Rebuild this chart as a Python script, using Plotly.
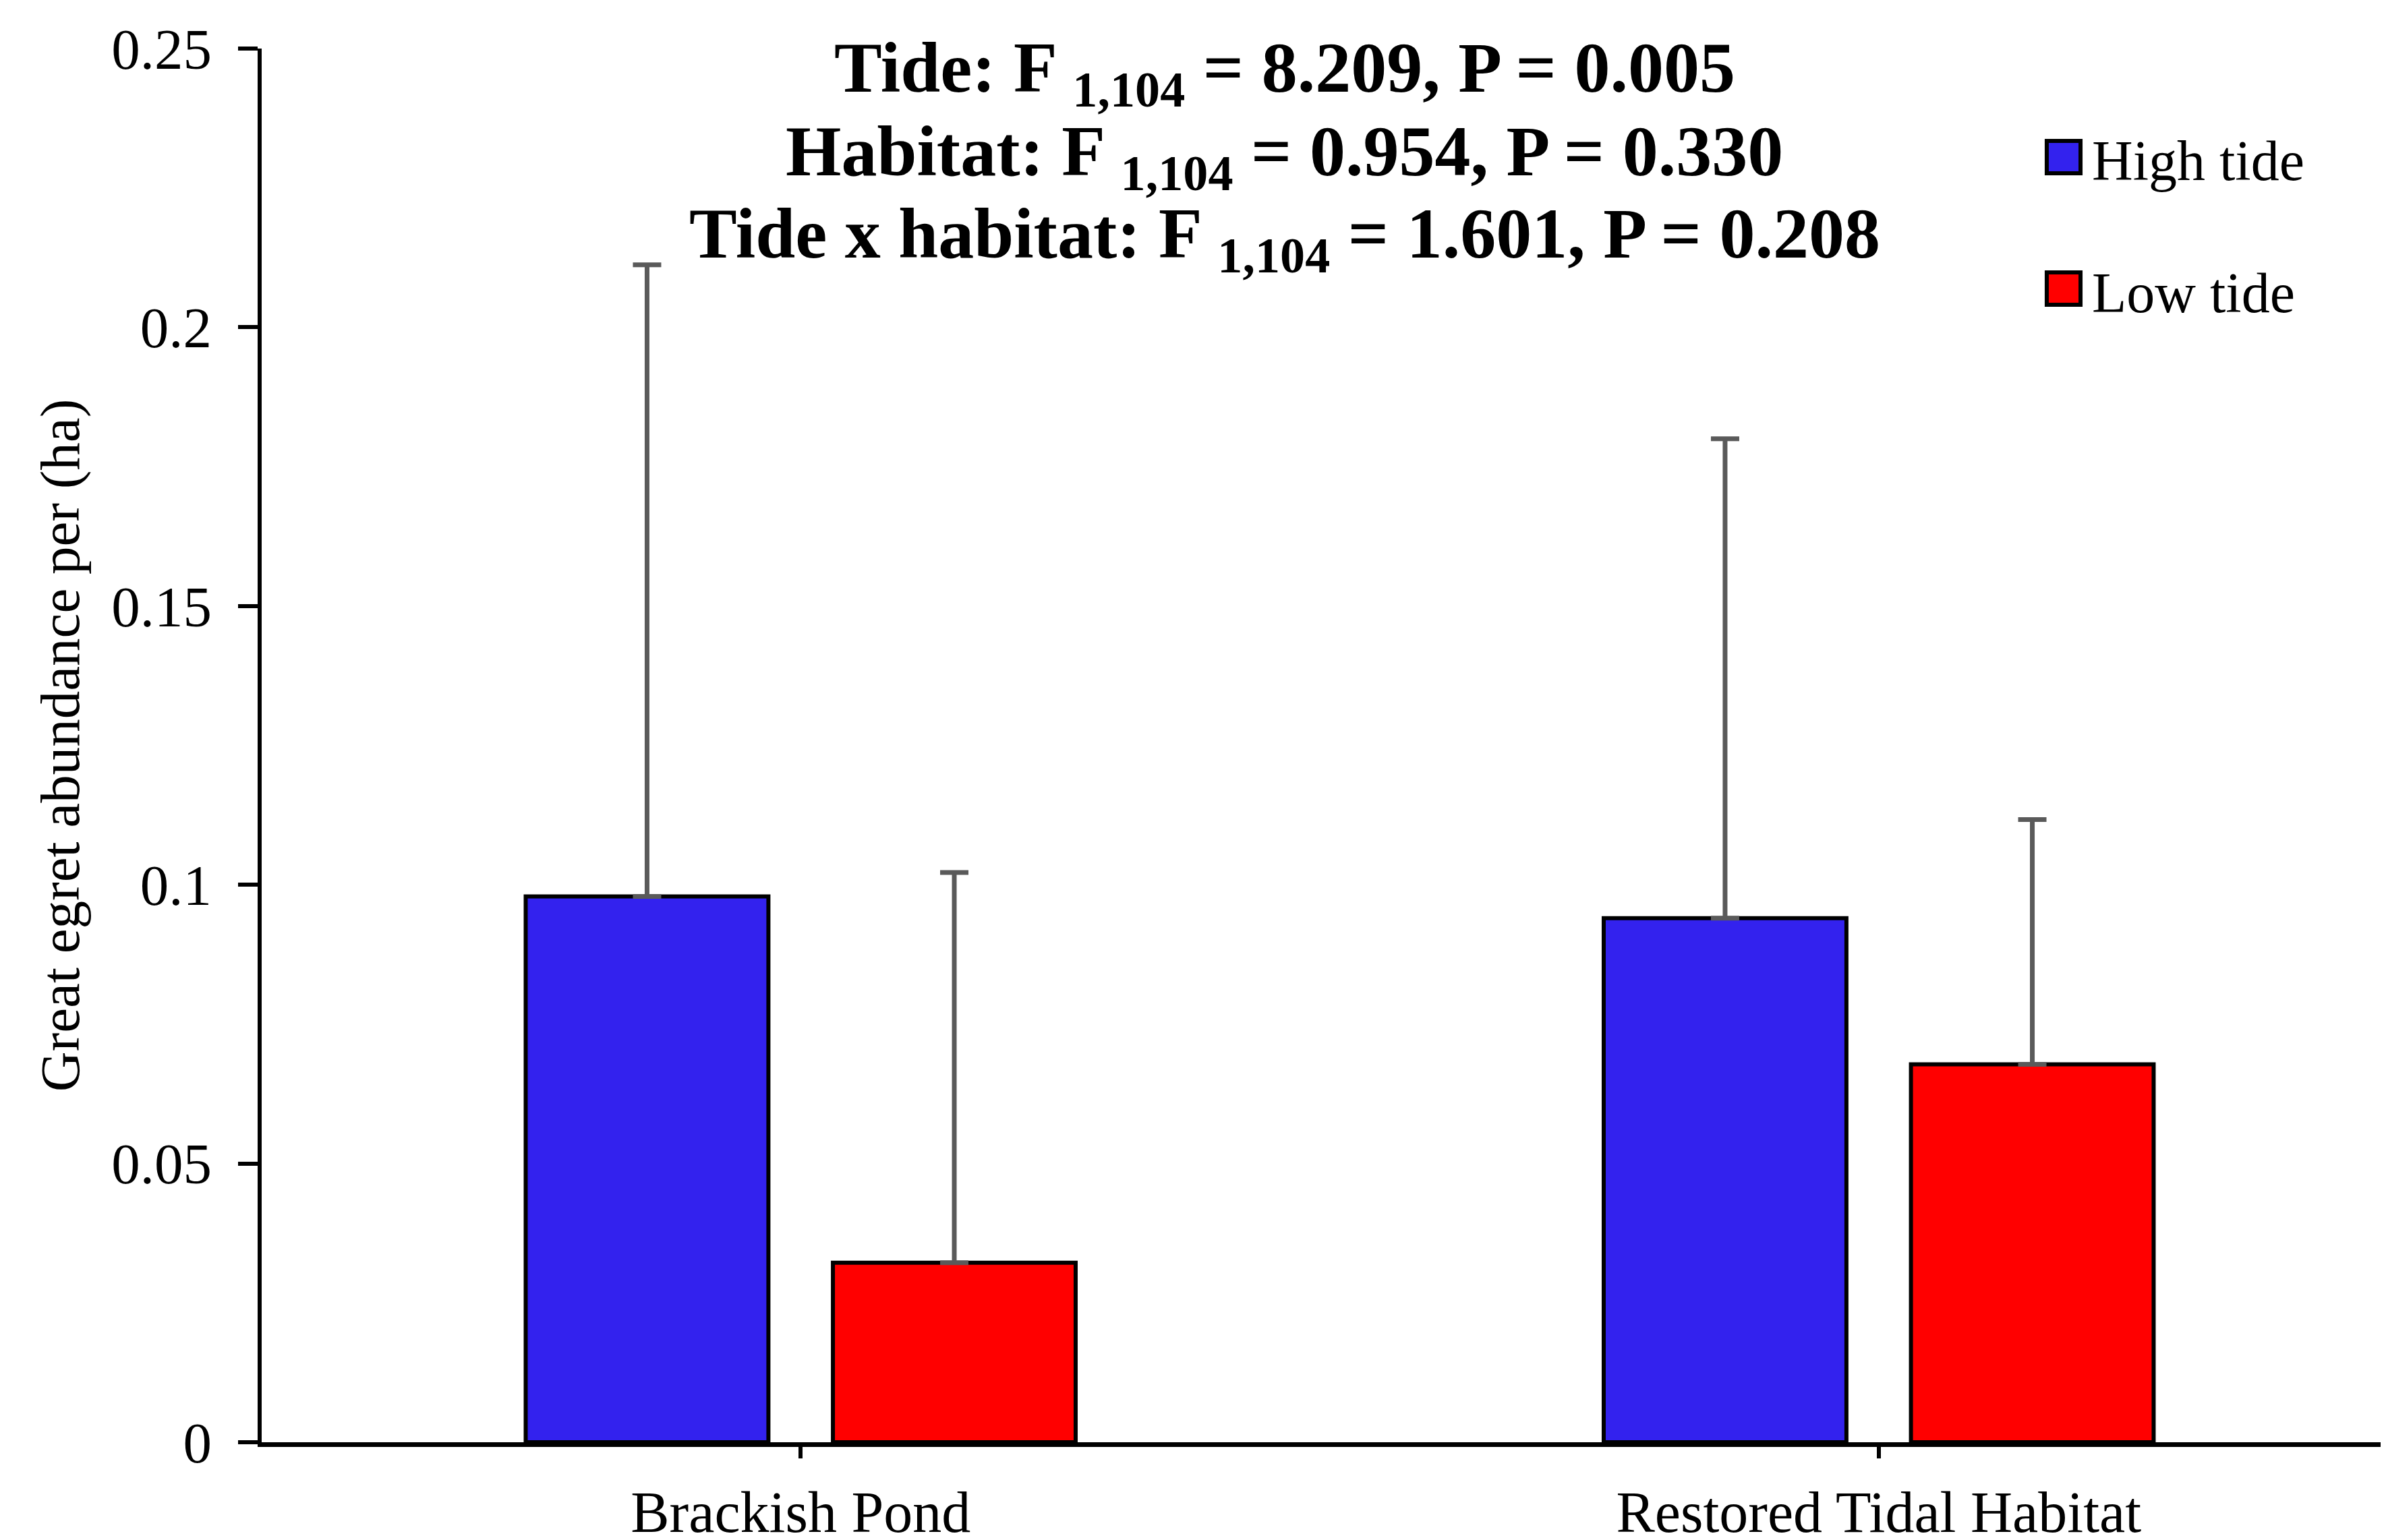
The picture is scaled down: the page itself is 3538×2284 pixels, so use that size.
import plotly.graph_objects as go

# ---- data ----
categories = ["Brackish Pond", "Restored Tidal Habitat"]
series_names = ["High tide", "Low tide"]
series_colors = ["#3322EE", "#FF0000"]
high_tide = [0.0979, 0.0940]
low_tide = [0.0322, 0.0678]
high_tide_err = [0.1133, 0.0860]
low_tide_err = [0.0700, 0.0439]
y_tickvals = [0, 0.05, 0.1, 0.15, 0.2, 0.25]
y_ticktext = ["0", "0.05", "0.1", "0.15", "0.2", "0.25"]
stats_lines = [
    "Tide: F <sub>1,104</sub> = 8.209, P = 0.005",
    "Habitat: F <sub>1,104</sub> = 0.954, P = 0.330",
    "Tide x habitat: F <sub>1,104</sub> = 1.601, P = 0.208",
]
y_title = "Great egret abundance per (ha)"

FONT = "Liberation Serif, Times New Roman, serif"
# page body has an 8px margin, so the figure is sized to fit the window
W, H = 3530, 2276
ML, MR, MT, MB = 380, 0, 64, 145

means = [high_tide, low_tide]
errs = [high_tide_err, low_tide_err]

fig = go.Figure()
for name, color, m, e in zip(series_names, series_colors, means, errs):
    fig.add_trace(go.Bar(
        x=categories, y=m, name=name,
        marker=dict(color=color, line=dict(color="black", width=6)),
        error_y=dict(type="data", symmetric=False, array=e,
                     arrayminus=[0] * len(e), color="#5a5a5a",
                     thickness=7, width=21),
        showlegend=False,
    ))

# stats text lines (paper coordinates)
stats_y = [0.9826, 0.9228, 0.8634]
annotations = []
for txt, yy in zip(stats_lines, stats_y):
    annotations.append(dict(
        text="<b>" + txt + "</b>", xref="paper", yref="paper",
        x=0.4815, y=yy, xanchor="center", yanchor="middle",
        showarrow=False, font=dict(family=FONT, size=106, color="black")))

# legend drawn as swatches + labels to match the large boxes
shapes = []
leg_y = [(0.9105, 0.9337), (0.8162, 0.8394)]
leg_text_y = [0.9194, 0.8244]
for name, color, (y0, y1), ty in zip(series_names, series_colors, leg_y, leg_text_y):
    shapes.append(dict(type="rect", xref="paper", yref="paper",
                       x0=0.8403, x1=0.8562, y0=y0, y1=y1,
                       fillcolor=color, line=dict(color="black", width=6)))
    annotations.append(dict(text=name, xref="paper", yref="paper",
                            x=0.861, y=ty, xanchor="left", yanchor="middle",
                            showarrow=False,
                            font=dict(family=FONT, size=84, color="black")))

fig.update_layout(
    width=W, height=H,
    margin=dict(l=ML, r=MR, t=MT, b=MB, pad=0, autoexpand=False),
    paper_bgcolor="white", plot_bgcolor="white",
    barmode="group", bargap=0.43, bargroupgap=0.21,
    font=dict(family=FONT, size=85, color="black"),
    annotations=annotations, shapes=shapes,
    showlegend=False,
)
fig.update_xaxes(
    type="category", range=[-0.5, 1.4706], automargin=False,
    showline=True, linecolor="black", linewidth=7,
    ticks="outside", ticklen=17, tickwidth=6, tickcolor="black",
    showgrid=False, zeroline=False,
    tickfont=dict(family=FONT, size=86, color="black"),
    ticklabelstandoff=6,
)
fig.update_yaxes(
    range=[0, 0.25], tickvals=y_tickvals, ticktext=y_ticktext,
    automargin=False,
    showline=True, linecolor="black", linewidth=6,
    ticks="outside", ticklen=29, tickwidth=6, tickcolor="black",
    showgrid=False, zeroline=False,
    tickfont=dict(family=FONT, size=85, color="black"),
    ticklabelstandoff=22,
    title=dict(text=y_title, font=dict(family=FONT, size=83, color="black"),
               standoff=22),
)

fig.write_html("out.html")
